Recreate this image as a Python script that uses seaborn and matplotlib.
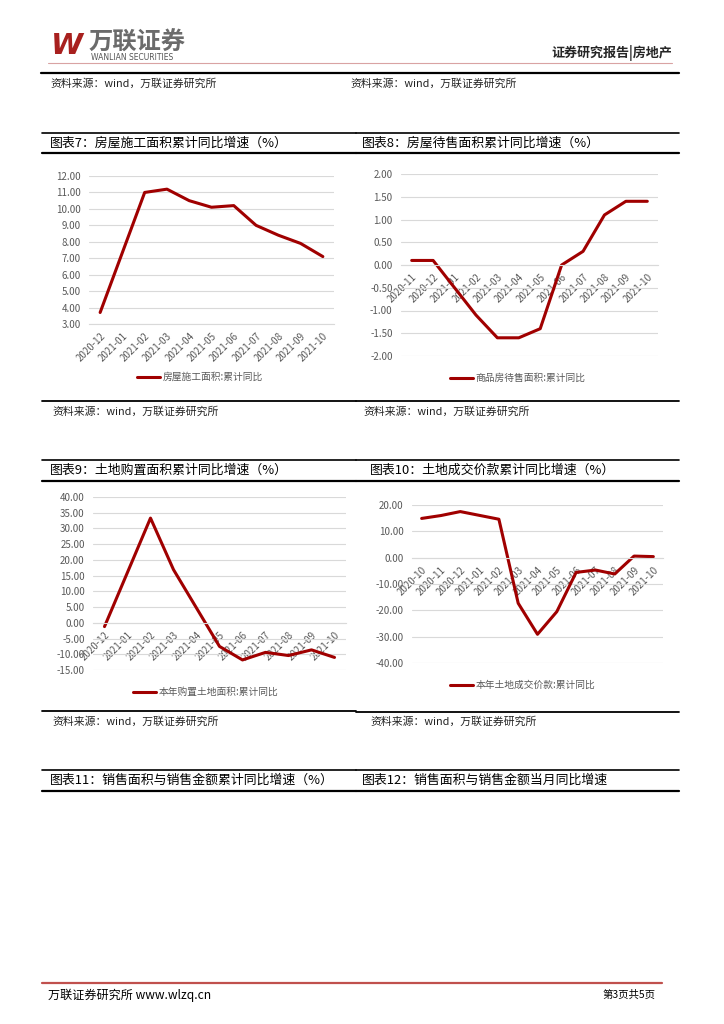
import numpy as np
import pandas as pd
import matplotlib
matplotlib.use("Agg")
import matplotlib.pyplot as plt
from matplotlib.lines import Line2D
from matplotlib.ticker import MultipleLocator, FuncFormatter
import seaborn as sns

# -------------------------------
# Dados
# -------------------------------
nan = np.nan

meses7 = ["2020-12", "2021-01", "2021-02", "2021-03", "2021-04", "2021-05",
          "2021-06", "2021-07", "2021-08", "2021-09", "2021-10"]
valores7 = [3.7, nan, 11.0, 11.2, 10.5, 10.1, 10.2, 9.0, 8.4, 7.9, 7.1]
nome7 = "房屋施工面积:累计同比"

meses8 = ["2020-11", "2020-12", "2021-01", "2021-02", "2021-03", "2021-04",
          "2021-05", "2021-06", "2021-07", "2021-08", "2021-09", "2021-10"]
valores8 = [0.1, 0.1, nan, -1.1, -1.6, -1.6, -1.4, 0.0, 0.3, 1.1, 1.4, 1.4]
nome8 = "商品房待售面积:累计同比"

meses9 = ["2020-12", "2021-01", "2021-02", "2021-03", "2021-04", "2021-05",
          "2021-06", "2021-07", "2021-08", "2021-09", "2021-10"]
valores9 = [-1.2, nan, 33.3, 16.9, 4.7, -7.5, -11.8, -9.4, -10.4, -8.6, -11.0]
nome9 = "本年购置土地面积:累计同比"

meses10 = ["2020-10", "2020-11", "2020-12", "2021-01", "2021-02", "2021-03",
           "2021-04", "2021-05", "2021-06", "2021-07", "2021-08", "2021-09",
           "2021-10"]
valores10 = [14.9, 16.0, 17.5, nan, 14.6, -17.3, -29.1, -20.5, -5.6, -4.7,
             -6.2, 0.6, 0.4]
nome10 = "本年土地成交价款:累计同比"

titulos = ["图表7：房屋施工面积累计同比增速（%）",
           "图表8：房屋待售面积累计同比增速（%）",
           "图表9：土地购置面积累计同比增速（%）",
           "图表10：土地成交价款累计同比增速（%）",
           "图表11：销售面积与销售金额累计同比增速（%）",
           "图表12：销售面积与销售金额当月同比增速"]
fonte = "资料来源：wind，万联证券研究所"

# -------------------------------
# Estilo
# -------------------------------
sns.set_theme(style="white")
plt.rcParams["font.family"] = ["Noto Sans CJK SC", "DejaVu Sans"]
plt.rcParams["axes.unicode_minus"] = False

W, H = 724, 1024
VERMELHO = "#A00000"
CINZA = "#595959"
GRADE = "#D9D9D9"

fig = plt.figure(figsize=(W / 100, H / 100), dpi=100)


def caixa(x0, y0, x1, y1):
    return [x0 / W, 1 - y1 / H, (x1 - x0) / W, (y1 - y0) / H]


def texto(x, y, s, **kw):
    kw.setdefault("va", "center")
    fig.text(x / W, 1 - y / H, s, **kw)


def linha(x0, x1, y, cor="black", lw=1.2):
    fig.add_artist(Line2D([x0 / W, x1 / W], [1 - y / H, 1 - y / H],
                          transform=fig.transFigure, color=cor, lw=lw))


def grafico(pos, meses, valores, nome, ylim, passo, no_zero, leg_xy):
    ax = fig.add_axes(caixa(*pos))
    df = pd.DataFrame({"pos": np.arange(len(meses)), "val": valores}).dropna()
    sns.lineplot(data=df, x="pos", y="val", ax=ax, color=VERMELHO, lw=2.2,
                 errorbar=None, legend=False)
    ax.lines[0].set_label(nome)
    for s in ["top", "right", "left"]:
        ax.spines[s].set_visible(False)
    ax.spines["bottom"].set_color(GRADE)
    ax.spines["bottom"].set_linewidth(0.8)
    if no_zero:
        ax.spines["bottom"].set_position(("data", 0))
    ax.set_xlim(-0.5, len(meses) - 0.5)
    ax.set_ylim(*ylim)
    ax.yaxis.set_major_locator(MultipleLocator(passo))
    ax.yaxis.set_major_formatter(FuncFormatter(lambda v, p: f"{v:.2f}"))
    ax.set_xticks(range(len(meses)))
    ax.set_xticklabels(meses, rotation=45, ha="right", va="top",
                       rotation_mode="anchor")
    ax.set_xticks(np.arange(len(meses) + 1) - 0.5, minor=True)
    ax.tick_params(axis="x", which="major", length=0, pad=5, labelsize=7,
                   labelcolor=CINZA)
    ax.tick_params(axis="x", which="minor", length=3, color=GRADE, width=0.8)
    ax.tick_params(axis="y", length=0, pad=6, labelsize=7, labelcolor=CINZA)
    ax.grid(axis="y", color=GRADE, lw=0.8)
    ax.grid(axis="x", visible=False)
    ax.set_xlabel("")
    ax.set_ylabel("")
    ax.set_facecolor("none")
    h, l = ax.get_legend_handles_labels()
    fig.legend(h, l, loc="center left",
               bbox_to_anchor=(leg_xy[0] / W, 1 - leg_xy[1] / H),
               frameon=False, fontsize=7, handlelength=2.4,
               handletextpad=0.2, borderaxespad=0, borderpad=0,
               labelcolor=CINZA)
    return ax


# -------------------------------
# Cabeçalho
# -------------------------------
texto(51, 46, "W", fontsize=21, fontweight="bold", fontstyle="italic",
      color="#A8201E", family="DejaVu Sans")
texto(89, 43, "万联证券", fontsize=17.5, fontweight="bold", color="#6B6B6B")
texto(91, 58, "WANLIAN SECURITIES", fontsize=5.5, color="#555555",
      family="DejaVu Sans")
texto(672, 53, "证券研究报告|房地产", fontsize=9.4, fontweight="bold",
      ha="right")
linha(48, 672, 63, cor="#D9A3A3", lw=0.8)
linha(41, 679, 73, lw=1.6)
texto(50, 84, fonte, fontsize=7.8, fontstyle="italic", color="#222222")
texto(350, 84, fonte, fontsize=7.8, fontstyle="italic", color="#222222")

# -------------------------------
# Títulos e molduras
# -------------------------------
for (x0, x1, xt, y_top, y_bot, y_tit, t) in [
        (42, 356, 50, 133, 153, 143, titulos[0]),
        (356, 679, 362, 133, 153, 143, titulos[1]),
        (42, 356, 50, 460, 481, 470, titulos[2]),
        (356, 679, 370, 460, 481, 470, titulos[3]),
        (42, 356, 50, 770, 791, 780, titulos[4]),
        (356, 679, 362, 770, 791, 780, titulos[5])]:
    linha(x0, x1, y_top, lw=1.2)
    linha(x0, x1, y_bot, lw=1.6)
    texto(xt, y_tit, t, fontsize=9.3, color="black")

linha(42, 356, 401, lw=1.3)
linha(356, 679, 401, lw=1.3)
linha(42, 356, 711, lw=1.3)
linha(356, 679, 712, lw=1.3)
texto(52, 412, fonte, fontsize=7.8, fontstyle="italic", color="#222222")
texto(363, 412, fonte, fontsize=7.8, fontstyle="italic", color="#222222")
texto(52, 722, fonte, fontsize=7.8, fontstyle="italic", color="#222222")
texto(370, 722, fonte, fontsize=7.8, fontstyle="italic", color="#222222")

# -------------------------------
# Gráficos
# -------------------------------
grafico((89, 176, 334, 324), meses7, valores7, nome7, (3, 12), 1, False,
        (137, 377))
grafico((401, 174, 658, 356), meses8, valores8, nome8, (-2, 2), 0.5, True,
        (450, 378))
grafico((93, 497, 346, 670), meses9, valores9, nome9, (-15, 40), 5, True,
        (133, 692))
grafico((412, 505, 663, 663), meses10, valores10, nome10, (-40, 20), 10, True,
        (450, 685))

# -------------------------------
# Rodapé
# -------------------------------
linha(42, 662, 983, cor="#C0504D", lw=1.6)
texto(48, 995, "万联证券研究所 www.wlzq.cn", fontsize=8.7, color="black")
texto(656, 995, "第3页共5页", fontsize=7.5, color="black", ha="right")

fig.savefig("out.png", dpi=100, facecolor="white")
